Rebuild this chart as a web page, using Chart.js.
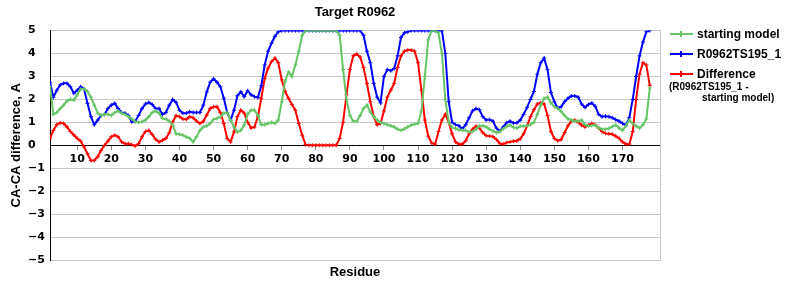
<!DOCTYPE html>
<html>
<head>
<meta charset="utf-8">
<script src="https://cdn.jsdelivr.net/npm/chart.js@4.4.1/dist/chart.umd.min.js"></script>
<style>
    body { margin: 0; background: #fff; }
    #wrap { position: relative; width: 800px; height: 300px; }
    #legend { position: absolute; left: 0; top: 0; font-family: "Liberation Sans", Arial, sans-serif; font-weight: bold; color: #000; }
    .item { position: absolute; left: 669px; height: 16px; line-height: 16px; font-size: 12px; white-space: nowrap; }
    .swatch { position: absolute; left: 1px; top: 7px; width: 23px; height: 2px; }
    .swatch i { position: absolute; left: 10px; top: -2px; width: 2px; height: 6px; }
    .item span { position: absolute; left: 28px; }
    .note { position: absolute; font-size: 10px; white-space: nowrap; }
</style>
</head>
<body>
<div id="wrap">
    <canvas id="chart" width="800" height="300"></canvas>
    <div id="legend"></div>
</div>
<script>
// residues 2..178
const startingModel = [
    2.55, 1.35, 1.43, 1.6, 1.75, 1.93, 2.0, 1.97, 2.2, 2.45,
    2.45, 2.35, 2.1, 1.75, 1.4, 1.3, 1.35, 1.35, 1.3, 1.43,
    1.5, 1.4, 1.35, 1.25, 1.15, 1.03, 1.0, 1.03, 1.1, 1.25,
    1.43, 1.5, 1.4, 1.17, 1.15, 1.05, 0.88, 0.5, 0.48, 0.44,
    0.37, 0.3, 0.15, 0.37, 0.65, 0.8, 0.85, 0.95, 1.13, 1.17,
    1.25, 1.4, 1.43, 1.1, 0.8, 0.58, 0.65, 0.88, 1.35, 1.53,
    1.53, 1.3, 0.9, 0.9, 0.95, 1.0, 0.95, 1.1, 1.9, 2.8,
    3.2, 3.0, 3.5, 4.1, 4.8, 5, 5, 5, 5, 5,
    5, 5, 5, 5, 5, 4.8, 3.3, 2.0, 1.3, 1.05,
    1.05, 1.3, 1.6, 1.75, 1.45, 1.25, 1.1, 1.0, 0.95, 0.9,
    0.85, 0.8, 0.7, 0.65, 0.72, 0.8, 0.88, 0.92, 0.95, 1.5,
    3.0, 4.6, 5, 5, 4.9, 4.0, 2.0, 1.0, 0.78, 0.73,
    0.68, 0.66, 0.65, 0.58, 0.6, 0.7, 0.85, 0.85, 0.8, 0.7,
    0.62, 0.55, 0.6, 0.72, 0.82, 0.88, 0.78, 0.75, 0.83, 0.83,
    0.85, 0.9, 1.0, 1.35, 1.75, 2.05, 2.1, 1.85, 1.68, 1.6,
    1.47, 1.3, 1.15, 1.1, 1.05, 1.05, 1.1, 0.9, 0.83, 0.86,
    0.88, 0.75, 0.7, 0.7, 0.73, 0.82, 0.88, 0.75, 0.65, 0.85,
    1.1, 0.95, 0.85, 0.75, 0.9, 1.15, 2.5
];
const ts195 = [
    2.75, 2.1, 2.4, 2.63, 2.7, 2.7, 2.55, 2.27, 2.4, 2.55,
    2.45, 1.83, 1.25, 0.9, 1.1, 1.3, 1.35, 1.6, 1.75, 1.83,
    1.6, 1.43, 1.4, 1.3, 1.02, 1.05, 1.3, 1.6, 1.8, 1.87,
    1.78, 1.6, 1.6, 1.35, 1.43, 1.75, 2.0, 1.87, 1.53, 1.4,
    1.4, 1.46, 1.43, 1.43, 1.43, 1.75, 2.33, 2.75, 2.9, 2.75,
    2.55, 2.05, 1.43, 1.1, 1.53, 2.16, 2.33, 2.12, 2.38, 2.2,
    2.12, 2.08, 2.6, 3.5, 4.1, 4.45, 4.75, 4.95, 5, 5,
    5, 5, 5, 5, 5, 5, 5, 5, 5, 5,
    5, 5, 5, 5, 5, 5, 5, 5, 5, 5,
    5, 5, 4.8, 4.1, 3.6, 2.7, 2.1, 1.85, 3.0, 3.3,
    3.25, 3.35, 3.9, 4.7, 4.9, 4.95, 5, 5, 5, 5,
    5, 5, 5, 5, 5, 5, 4.0, 1.9, 1.0, 0.9,
    0.85, 0.72, 0.9, 1.2, 1.5, 1.6, 1.55, 1.25, 1.1, 1.12,
    1.05, 0.75, 0.62, 0.8, 0.98, 1.05, 0.97, 0.98, 1.1, 1.35,
    1.65, 2.0, 2.35, 3.1, 3.6, 3.8, 3.3, 2.3, 1.9, 1.62,
    1.68, 1.9, 2.05, 2.15, 2.15, 2.1, 1.8, 1.65, 1.78, 1.84,
    1.7, 1.35, 1.25, 1.27, 1.25, 1.2, 1.12, 1.05, 0.95, 0.88,
    1.2, 2.0, 3.0, 3.9, 4.5, 4.95, 5.0
];
const difference = [
    0.3, 0.65, 0.9, 0.98, 0.95, 0.8, 0.6, 0.45, 0.3, 0.18,
    -0.07, -0.37, -0.66, -0.66, -0.5, -0.22, 0, 0.18, 0.37, 0.44,
    0.37, 0.15, 0.07, 0.07, 0.03, -0.03, 0.07, 0.37, 0.6, 0.65,
    0.47, 0.26, 0.15, 0.22, 0.3, 0.55, 1.02, 1.29, 1.25, 1.15,
    1.13, 1.25, 1.2, 1.06, 0.95, 1.05, 1.32, 1.6, 1.68, 1.68,
    1.43, 0.95, 0.3, 0.15, 0.58, 1.25, 1.53, 1.4, 1.0, 0.76,
    0.8, 1.25, 2.05, 2.92, 3.36, 3.65, 3.8, 3.6, 2.85, 2.34,
    2.05, 1.78, 1.53, 0.95, 0.44, 0.03, 0, 0, 0, 0,
    0, 0, 0, 0, 0, 0.3, 1.0, 2.2, 3.3, 3.9,
    3.98, 3.85, 3.4, 2.7, 1.9, 1.25, 0.9, 0.95, 1.5, 2.1,
    2.4, 2.7, 3.4, 3.9, 4.1, 4.15, 4.15, 4.1, 3.6, 2.4,
    1.1, 0.4, 0.1, 0.05, 0.6, 1.1, 1.35, 1.0, 0.5, 0.15,
    0.05, 0.05, 0.2, 0.5, 0.7, 0.83, 0.75, 0.55, 0.42, 0.4,
    0.38, 0.25, 0.08, 0.05, 0.12, 0.15, 0.18, 0.2, 0.28, 0.5,
    0.85, 1.25, 1.55, 1.8, 1.85, 1.8, 1.3, 0.6, 0.3, 0.2,
    0.25, 0.55, 0.85, 1.05, 1.1, 1.0, 0.88, 0.8, 0.88, 0.95,
    0.9, 0.75, 0.6, 0.52, 0.5, 0.48, 0.4, 0.3, 0.15, 0.05,
    0.05, 0.6, 2.0, 3.1, 3.6, 3.5, 2.6
];
const firstResidue = 2;
const residues = startingModel.map((_, i) => firstResidue + i);
const xTicks = [10, 20, 30, 40, 50, 60, 70, 80, 90, 100, 110, 120, 130, 140, 150, 160, 170];

const seriesNames = ['starting model', 'R0962TS195_1', 'Difference'];
const seriesColors = ['#66c466', '#0000ff', '#ff0000'];

const tickFont = { family: 'DejaVu Sans', size: 11, weight: 'bold' };
const labelFont = { family: 'Liberation Sans', size: 13, weight: 'bold' };

function makeSet(i, values) {
    return {
        label: seriesNames[i],
        data: values,
        borderColor: seriesColors[i],
        backgroundColor: seriesColors[i],
        borderWidth: 2,
        pointStyle: 'cross',
        pointRadius: 2,
        pointBorderWidth: 1,
        tension: 0,
        fill: false,
    };
}

new Chart(document.getElementById('chart'), {
    type: 'line',
    data: {
        labels: residues,
        datasets: [
            makeSet(0, startingModel),
            makeSet(1, ts195),
            makeSet(2, difference),
        ]
    },
    options: {
        responsive: false,
        animation: false,
        devicePixelRatio: 1,
        layout: { padding: 0 },
        scales: {
            x: {
                type: 'linear',
                min: 2,
                max: 181,
                position: { y: 0 },
                afterBuildTicks: (s) => { s.ticks = xTicks.map(v => ({ value: v })); },
                grid: { drawOnChartArea: false, tickLength: 4, color: '#888' },
                border: { color: '#000' },
                ticks: { font: tickFont, color: '#000', padding: 3, autoSkip: false, maxRotation: 0 },
            },
            xb: {
                type: 'linear',
                position: 'bottom',
                min: 2,
                max: 181,
                grid: { display: false },
                border: { display: false },
                ticks: { display: false },
                title: { display: true, text: 'Residue', font: labelFont, color: '#000', padding: { top: 0, bottom: 20 } },
                afterFit: (s) => { s.height = 40; },
            },
            y: {
                position: 'left',
                weight: 0,
                min: -5,
                max: 5,
                grid: { color: '#c8c8c8', drawTicks: false },
                border: { color: '#000' },
                ticks: {
                    stepSize: 1,
                    font: tickFont,
                    color: '#000',
                    crossAlign: 'far',
                    callback: (v) => String(v).replace('-', '\u2212'),
                },
                afterFit: (s) => { s.width = 22; },
            },
            yt: {
                type: 'linear',
                position: 'left',
                weight: 1,
                min: -5,
                max: 5,
                grid: { display: false },
                border: { display: false },
                ticks: { display: false },
                title: { display: true, text: 'CA-CA difference, A', font: labelFont, color: '#000', padding: { top: 9, bottom: 0 } },
                afterFit: (s) => { s.width = 28; },
            },
            yr: {
                type: 'linear',
                position: 'right',
                min: -5,
                max: 5,
                grid: { display: false },
                border: { color: '#c8c8c8' },
                ticks: { display: false },
                afterFit: (s) => { s.width = 140; },
            }
        },
        plugins: {
            legend: { display: false },
            tooltip: { enabled: false },
            title: {
                display: true,
                text: 'Target R0962',
                fullSize: false,
                font: labelFont,
                color: '#000',
                padding: { top: 5, bottom: 10 },
            }
        }
    }
});

// legend drawn as html at the right
const legendEl = document.getElementById('legend');
const legendTops = [26, 46, 66];
seriesNames.forEach((name, i) => {
    const item = document.createElement('div');
    item.className = 'item';
    item.style.top = legendTops[i] + 'px';
    item.innerHTML = '<div class="swatch" style="background:' + seriesColors[i] + '"><i style="background:' + seriesColors[i] + '"></i></div><span>' + name + '</span>';
    legendEl.appendChild(item);
});
const note1 = document.createElement('div');
note1.className = 'note';
note1.style.left = '669px';
note1.style.top = '81px';
note1.textContent = '(R0962TS195_1 -';
legendEl.appendChild(note1);
const note2 = document.createElement('div');
note2.className = 'note';
note2.style.left = '702px';
note2.style.top = '92px';
note2.textContent = 'starting model)';
legendEl.appendChild(note2);
</script>
</body>
</html>
